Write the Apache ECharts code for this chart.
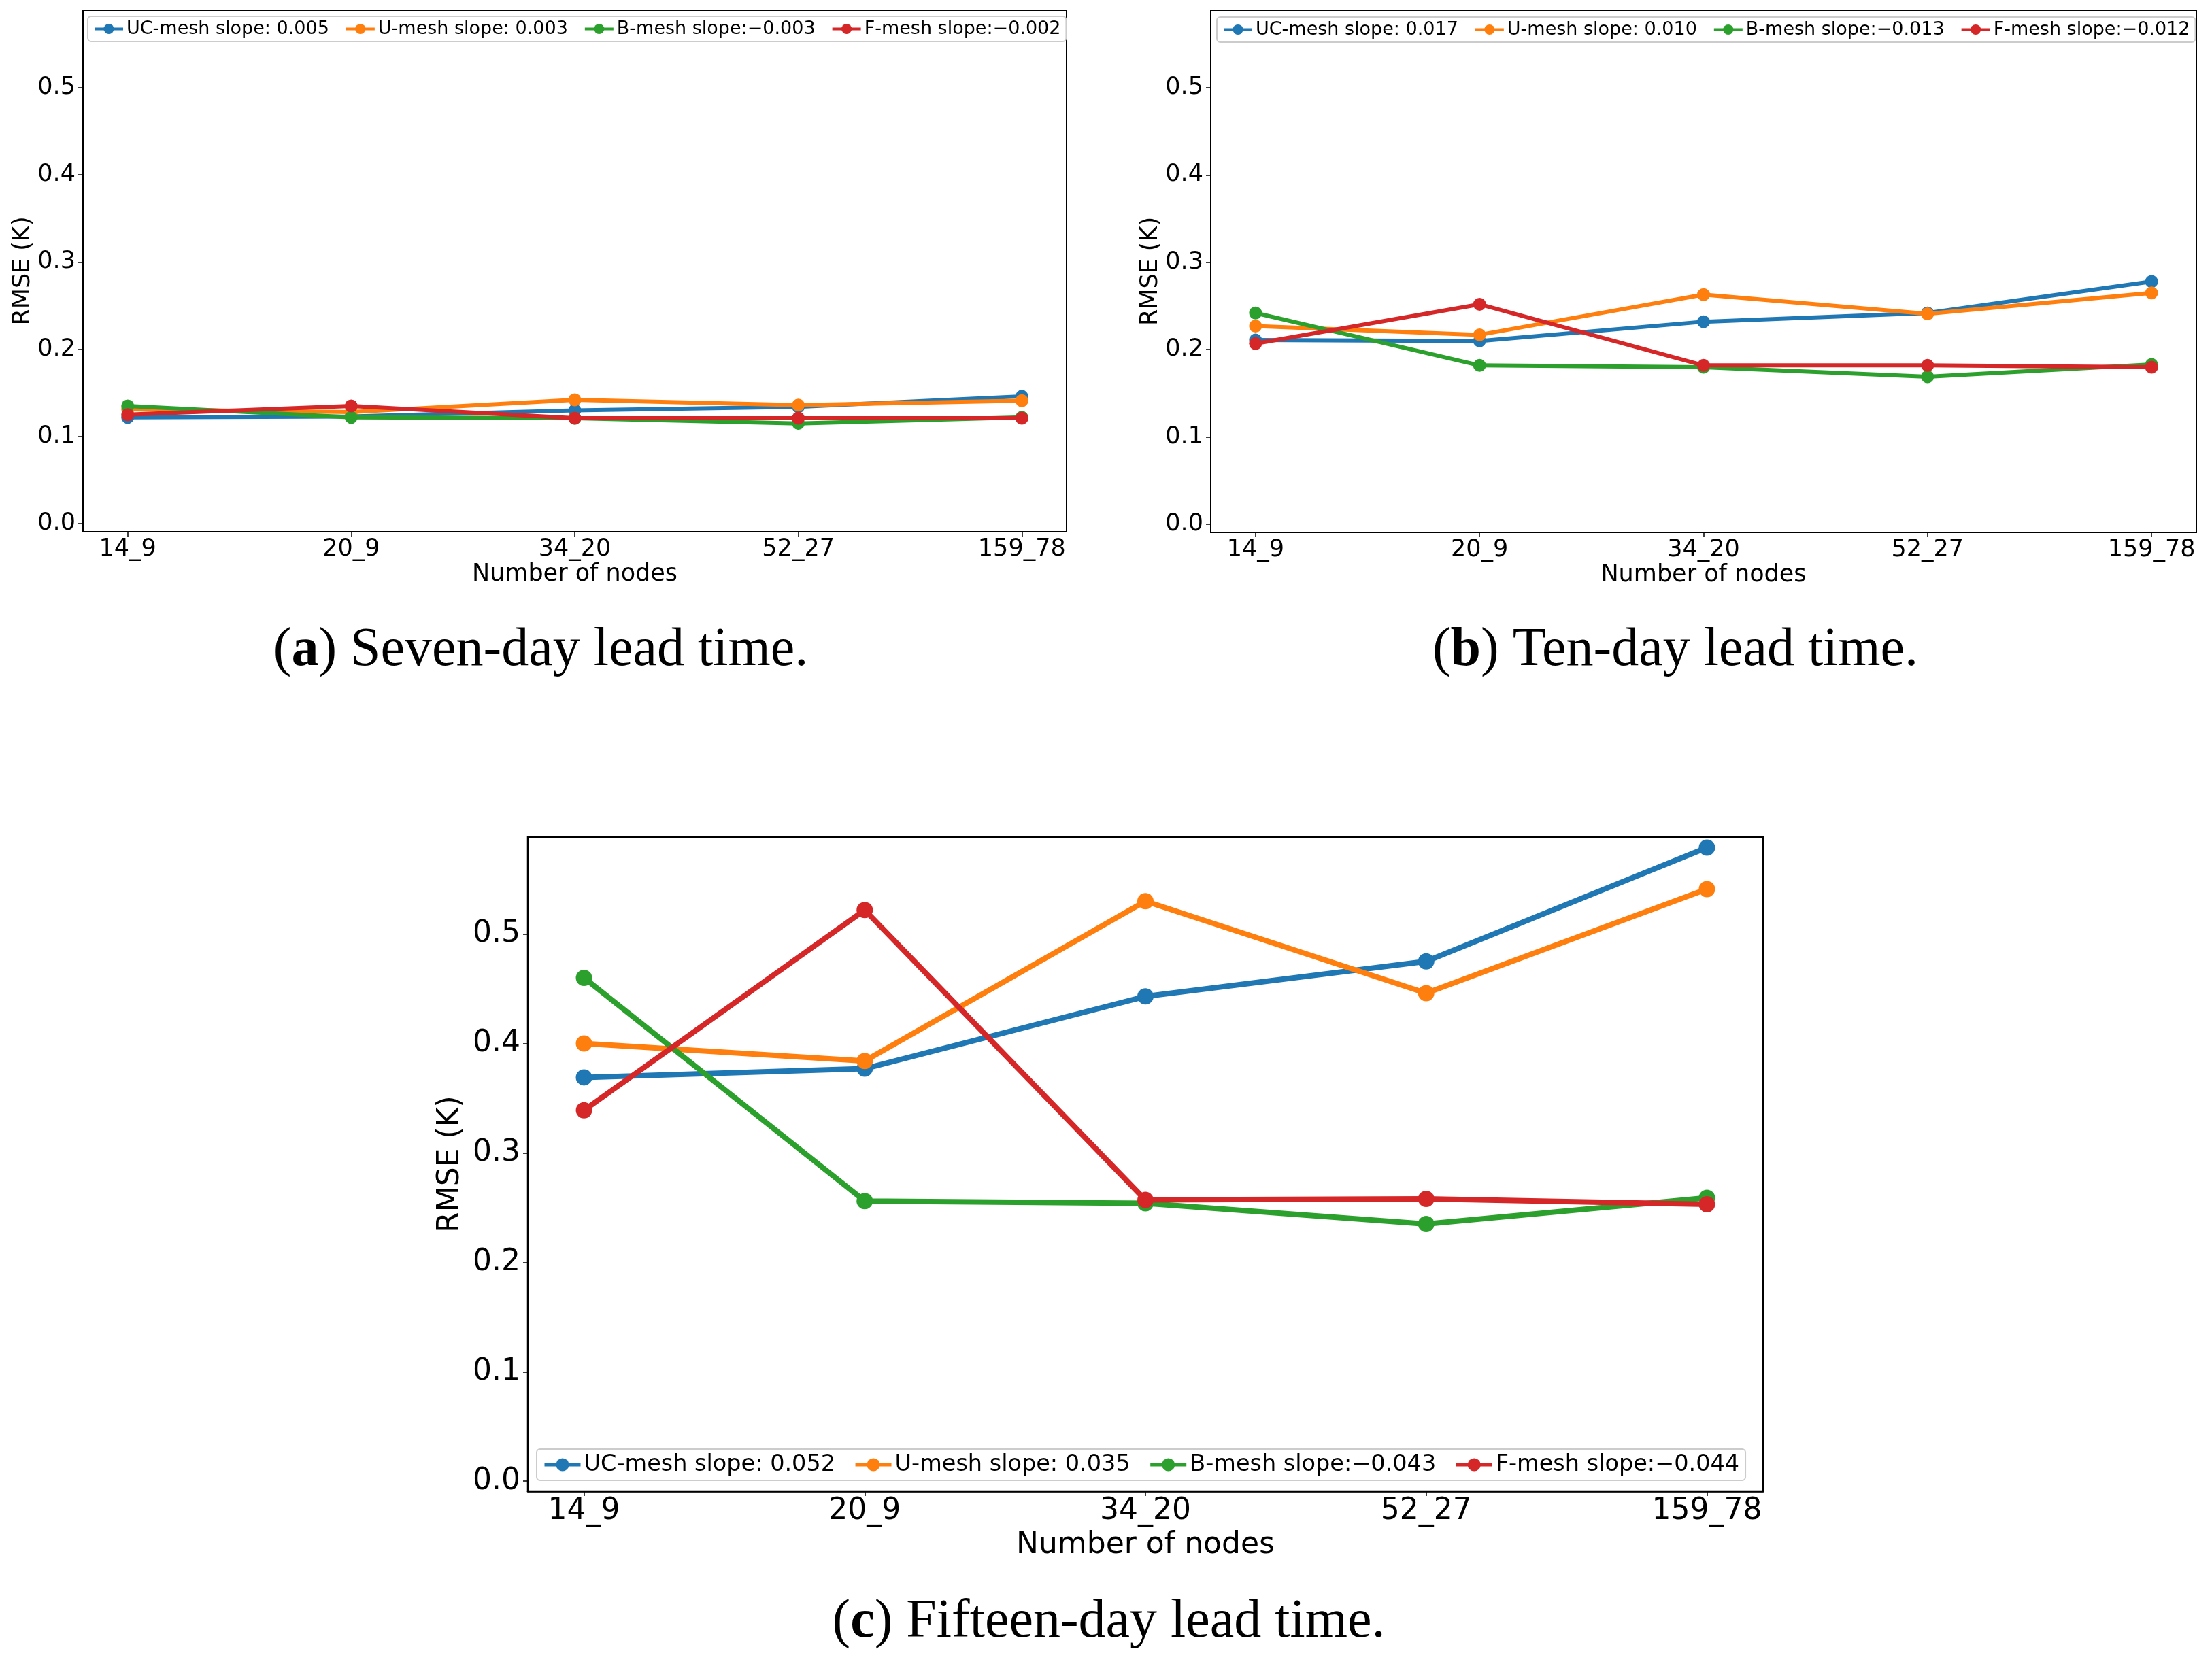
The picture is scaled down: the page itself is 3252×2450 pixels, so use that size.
<!DOCTYPE html>
<html>
<head>
<meta charset="utf-8">
<script src="https://cdn.jsdelivr.net/npm/echarts@6/dist/echarts.min.js"></script>
<style>
html, body { margin: 0; padding: 0; background: #fff; }
#main { width: 3252px; height: 2450px; }
</style>
</head>
<body>
<div id="main"></div>
<script>
// ---------- data ----------
const categories = ['14_9', '20_9', '34_20', '52_27', '159_78'];
const yTicks = [0, 0.1, 0.2, 0.3, 0.4, 0.5];

// (a) Seven-day lead time
const namesA = ['UC-mesh slope: 0.005', 'U-mesh slope: 0.003', 'B-mesh slope:\u22120.003', 'F-mesh slope:\u22120.002'];
const sevenUC = [0.122, 0.123, 0.130, 0.134, 0.146];
const sevenU  = [0.131, 0.128, 0.142, 0.136, 0.141];
const sevenB  = [0.135, 0.122, 0.121, 0.115, 0.122];
const sevenF  = [0.125, 0.135, 0.121, 0.121, 0.121];

// (b) Ten-day lead time
const namesB = ['UC-mesh slope: 0.017', 'U-mesh slope: 0.010', 'B-mesh slope:\u22120.013', 'F-mesh slope:\u22120.012'];
const tenUC = [0.211, 0.210, 0.232, 0.242, 0.278];
const tenU  = [0.227, 0.217, 0.263, 0.241, 0.265];
const tenB  = [0.242, 0.182, 0.180, 0.169, 0.183];
const tenF  = [0.207, 0.252, 0.182, 0.182, 0.180];

// (c) Fifteen-day lead time
const namesC = ['UC-mesh slope: 0.052', 'U-mesh slope: 0.035', 'B-mesh slope:\u22120.043', 'F-mesh slope:\u22120.044'];
const fifteenUC = [0.369, 0.377, 0.443, 0.475, 0.579];
const fifteenU  = [0.400, 0.384, 0.530, 0.446, 0.541];
const fifteenB  = [0.460, 0.256, 0.254, 0.235, 0.259];
const fifteenF  = [0.339, 0.522, 0.257, 0.258, 0.253];

const captions = ['Seven-day lead time.', 'Ten-day lead time.', 'Fifteen-day lead time.'];
const captionLetters = ['a', 'b', 'c'];

// ---------- styling ----------
const colors = ['#1f77b4', '#ff7f0e', '#2ca02c', '#d62728'];
const FONT = 'DejaVu Sans';
const SERIF = 'Liberation Serif';

const panels = [
  { names: namesA, values: [sevenUC, sevenU, sevenB, sevenF],
    grid: { left: 122, top: 15, width: 1446, height: 767 },
    fs: 35, legendFs: 27, sym: 19, lw: 6, border: 2,
    xGap: 45, yGap: 66, legend: { left: 129, top: 24 }, legItemW: 42, legItemH: 19, legGap: 23, legPad: [5, 8], legLw: 4 },
  { names: namesB, values: [tenUC, tenU, tenB, tenF],
    grid: { left: 1780, top: 15, width: 1449, height: 768 },
    fs: 35, legendFs: 27, sym: 19, lw: 6, border: 2,
    xGap: 45, yGap: 66, legend: { left: 1789, top: 25 }, legItemW: 42, legItemH: 19, legGap: 23, legPad: [5, 8], legLw: 4 },
  { names: namesC, values: [fifteenUC, fifteenU, fifteenB, fifteenF],
    grid: { left: 776, top: 1231, width: 1816, height: 962 },
    fs: 44, legendFs: 33.5, sym: 24, lw: 8, border: 2.5,
    xGap: 58, yGap: 80, legend: { left: 789, top: 2131 }, legItemW: 53, legItemH: 24, legGap: 27, legPad: [6, 9], legLw: 5 }
];

const captionPos = [
  { x: 795, y: 957, fs: 80 },
  { x: 2463, y: 957, fs: 80 },
  { x: 1630, y: 2386, fs: 80 }
];

const xTickVals = categories.map((c, i) => i);

const option = {
  animation: false,
  backgroundColor: '#fff',
  grid: [], xAxis: [], yAxis: [], legend: [], series: [], graphic: []
};

panels.forEach((p, gi) => {
  option.grid.push(Object.assign({ show: true, borderColor: '#000', borderWidth: p.border, backgroundColor: 'transparent', containLabel: false }, p.grid));
  option.xAxis.push({
    type: 'value', gridIndex: gi, min: -0.2, max: 4.2,
    axisLine: { show: true, onZero: false, lineStyle: { color: '#000', width: p.border } },
    axisTick: { show: true, customValues: xTickVals, length: 7, lineStyle: { color: '#000', width: 1.5 } },
    axisLabel: { show: true, customValues: xTickVals, formatter: v => categories[Math.round(v)], fontSize: p.fs, fontFamily: FONT, color: '#000', margin: 8 },
    splitLine: { show: false },
    name: 'Number of nodes', nameLocation: 'middle', nameGap: p.xGap,
    nameTextStyle: { fontSize: p.fs, fontFamily: FONT, color: '#000' }
  });
  option.yAxis.push({
    type: 'value', gridIndex: gi, min: -0.0092, max: 0.5886,
    axisLine: { show: true, onZero: false, lineStyle: { color: '#000', width: p.border } },
    axisTick: { show: true, customValues: yTicks, length: 7, lineStyle: { color: '#000', width: 1.5 } },
    axisLabel: { show: true, customValues: yTicks, formatter: v => v.toFixed(1), fontSize: p.fs, fontFamily: FONT, color: '#000', margin: 11 },
    splitLine: { show: false },
    name: 'RMSE (K)', nameLocation: 'middle', nameRotate: 90, nameGap: p.yGap,
    nameTextStyle: { fontSize: p.fs, fontFamily: FONT, color: '#000' }
  });
  option.legend.push({
    data: p.names, orient: 'horizontal', left: p.legend.left, top: p.legend.top,
    itemWidth: p.legItemW, itemHeight: p.legItemH, itemGap: p.legGap,
    padding: p.legPad, borderColor: '#cccccc', borderWidth: 2, borderRadius: 5,
    backgroundColor: 'rgba(255,255,255,0.8)',
    lineStyle: { width: p.legLw },
    textStyle: { fontSize: p.legendFs, fontFamily: FONT, color: '#000' },
    selectedMode: false
  });
  p.values.forEach((vals, si) => {
    option.series.push({
      type: 'line', name: p.names[si], xAxisIndex: gi, yAxisIndex: gi,
      data: vals.map((v, i) => [xTickVals[i], v]),
      symbol: 'circle', symbolSize: p.sym, showSymbol: true,
      lineStyle: { color: colors[si], width: p.lw },
      itemStyle: { color: colors[si] },
      emphasis: { disabled: true }, z: 2 + si
    });
  });
  const cp = captionPos[gi];
  option.graphic.push({
    type: 'text', x: cp.x, y: cp.y,
    style: {
      text: '(' + '{b|' + captionLetters[gi] + '}' + ') ' + captions[gi],
      font: cp.fs + 'px "' + SERIF + '"',
      fill: '#000', align: 'center', verticalAlign: 'middle',
      rich: { b: { fontWeight: 'bold', fontSize: cp.fs, fontFamily: SERIF, fill: '#000' } }
    }
  });
});

const chart = echarts.init(document.getElementById('main'), null, { renderer: 'canvas', width: 3252, height: 2450 });
chart.setOption(option);
</script>
</body>
</html>
